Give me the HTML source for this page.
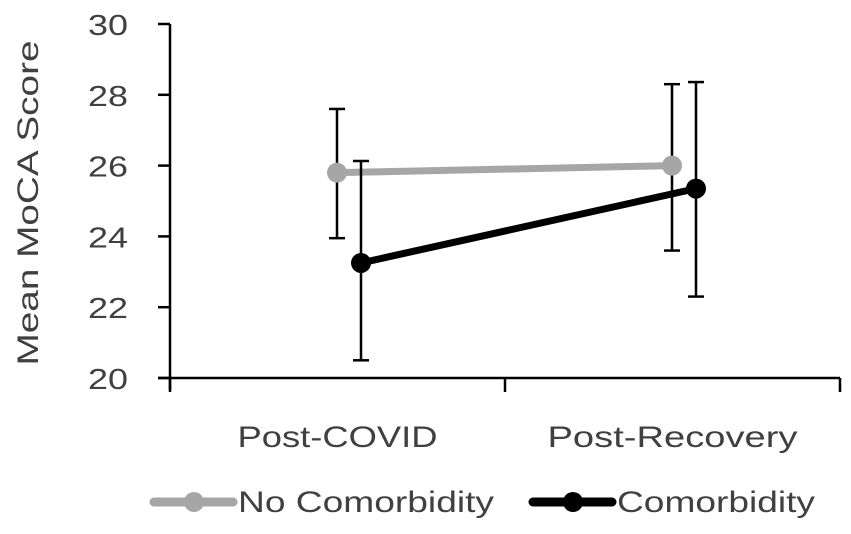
<!DOCTYPE html>
<html><head><meta charset="utf-8"><style>
body{margin:0;background:#fff}
svg text{font-family:"Liberation Sans",sans-serif;fill:#404040}
</style></head><body>
<svg width="851" height="529" viewBox="0 0 851 529">
<g id="axes"></g><g id="plot"></g><g id="legend"></g>
</svg>
<script>
const categories=["Post-COVID","Post-Recovery"];
const noComorbMean=[25.8,26.0];
const noComorbUpper=[27.6,28.3];
const noComorbLower=[23.95,23.6];
const comorbMean=[23.25,25.35];
const comorbUpper=[26.13,28.36];
const comorbLower=[20.5,22.3];
const yTicks=[20,22,24,26,28,30];
const NS="http://www.w3.org/2000/svg";
const x0=170,x1=840,yb=378,yt=24;
function yS(v){return yb-(v-20)/(30-20)*(yb-yt);}
const band=(x1-x0)/categories.length;
function xS(i,off){return x0+band*(i+0.5)+off;}
function mk(parent,tag,attrs){const e=document.createElementNS(NS,tag);for(const k in attrs)e.setAttribute(k,attrs[k]);parent.appendChild(e);return e;}
const axes=document.getElementById('axes'),plot=document.getElementById('plot'),leg=document.getElementById('legend');
let e=mk(axes,'line',{x1:x0,y1:yt,x2:x0,y2:yb+12,stroke:'#000','stroke-width':2.5});


e=mk(axes,'line',{x1:x0-12,y1:yb,x2:x1,y2:yb,stroke:'#000','stroke-width':2.5});


yTicks.forEach(t=>{
 let l=mk(axes,'line',{x1:x0-12,y1:yS(t),x2:x0,y2:yS(t),stroke:'#000','stroke-width':2.5});
 
 
 let tx=mk(axes,'text',{x:88,y:yS(t)+11,'font-size':29,textLength:40,lengthAdjust:'spacingAndGlyphs'});
 tx.textContent=t;
 
 
});
for(let i=0;i<=categories.length;i++){
 let l=mk(axes,'line',{x1:x0+band*i,y1:yb,x2:x0+band*i,y2:yb+14,stroke:'#000','stroke-width':2.5});
 
 
}
const catLen=[200,250];
categories.forEach((c,i)=>{
 let tx=mk(axes,'text',{x:xS(i,0),y:447,'text-anchor':'middle','font-size':30,textLength:catLen[i],lengthAdjust:'spacingAndGlyphs'});
 tx.textContent=c;
 
 
});
let yt2=mk(axes,'text',{x:0,y:0,'text-anchor':'middle','font-size':30,textLength:325,lengthAdjust:'spacingAndGlyphs',transform:'translate(38,203) rotate(-90)'});
yt2.textContent='Mean MoCA Score';


function series(mean,up,lo,off,color,name){
 const pts=mean.map((v,i)=>xS(i,off)+','+yS(v)).join(' ');
 let pl=mk(plot,'polyline',{points:pts,fill:'none',stroke:color,'stroke-width':7});
 
 
 mean.forEach((v,i)=>{
  const x=xS(i,off);
  let g=mk(plot,'g',{});
  
  
  mk(g,'line',{x1:x,y1:yS(up[i]),x2:x,y2:yS(lo[i]),stroke:'#000','stroke-width':2.5});
  mk(g,'line',{x1:x-8,y1:yS(up[i]),x2:x+8,y2:yS(up[i]),stroke:'#000','stroke-width':2.5});
  mk(g,'line',{x1:x-8,y1:yS(lo[i]),x2:x+8,y2:yS(lo[i]),stroke:'#000','stroke-width':2.5});
  let c=mk(plot,'circle',{cx:x,cy:yS(v),r:10,fill:color});
  
  
 });
}
series(noComorbMean,noComorbUpper,noComorbLower,-0.5,'#a6a6a6','no-comorbidity');
series(comorbMean,comorbUpper,comorbLower,23.5,'#000','comorbidity');
function legItem(x,color,label,len,name){
 let g=mk(leg,'g',{});
 
 
 mk(g,'line',{x1:x,y1:502,x2:x+79,y2:502,stroke:color,'stroke-width':9,'stroke-linecap':'round'});
 mk(g,'circle',{cx:x+40,cy:502,r:10,fill:color});
 let t=mk(g,'text',{x:x+84,y:512,'font-size':30,textLength:len,lengthAdjust:'spacingAndGlyphs'});t.textContent=label;
}
legItem(154,'#a6a6a6','No Comorbidity',256,'legend-no-comorbidity');
legItem(533,'#000','Comorbidity',198,'legend-comorbidity');
</script>
</body></html>
